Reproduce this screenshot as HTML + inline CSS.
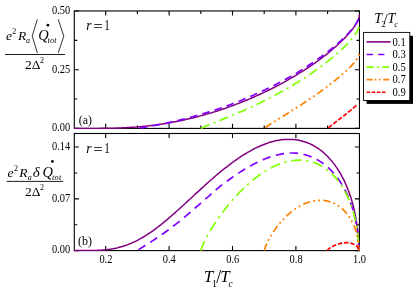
<!DOCTYPE html><html><head><meta charset="utf-8"><style>html,body{margin:0;padding:0;background:#fff}svg{display:block}</style></head><body><svg width="415" height="292" viewBox="0 0 415 292" style="will-change:transform"><rect width="415" height="292" fill="#fff"/><g style="filter:opacity(1)"><g fill="none" stroke="#000" stroke-width="1.1"><rect x="74.30" y="10.95" width="285.15" height="117.45"/><rect x="74.30" y="133.50" width="285.15" height="117.10"/><path d="M105.70 10.95V15.55M105.70 128.40V123.80M105.70 133.50V138.10M105.70 250.60V246.00M137.40 10.95V13.95M137.40 128.40V125.40M169.10 10.95V15.55M169.10 128.40V123.80M169.10 133.50V138.10M169.10 250.60V246.00M200.80 10.95V13.95M200.80 128.40V125.40M232.50 10.95V15.55M232.50 128.40V123.80M232.50 133.50V138.10M232.50 250.60V246.00M264.20 10.95V13.95M264.20 128.40V125.40M295.90 10.95V15.55M295.90 128.40V123.80M295.90 133.50V138.10M295.90 250.60V246.00M327.60 10.95V13.95M327.60 128.40V125.40M74.30 128.40H78.90M359.45 128.40H354.85M74.30 99.06H77.30M359.45 99.06H356.45M74.30 69.73H78.90M359.45 69.73H354.85M74.30 40.39H77.30M359.45 40.39H356.45M74.30 11.05H78.90M359.45 11.05H354.85M74.30 250.60H78.90M359.45 250.60H354.85M74.30 224.72H77.30M359.45 224.72H356.45M74.30 198.83H78.90M359.45 198.83H354.85M74.30 172.95H77.30M359.45 172.95H356.45M74.30 147.07H78.90M359.45 147.07H354.85"/></g><defs><clipPath id="c1"><rect x="73.30" y="10.95" width="287.15" height="118.05"/></clipPath><clipPath id="c2"><rect x="73.30" y="133.50" width="287.15" height="117.70"/></clipPath></defs><g fill="none" stroke-width="1.7" stroke-linejoin="round" clip-path="url(#c1)"><path d="M74.0 128.4 L78.5 128.4 L78.8 128.4 L83.0 128.4 L83.7 128.4 L87.4 128.4 L88.5 128.4 L91.8 128.4 L93.3 128.4 L96.1 128.4 L98.2 128.4 L100.4 128.3 L103.0 128.3 L104.7 128.3 L107.8 128.3 L108.9 128.2 L112.7 128.2 L113.1 128.2 L117.2 128.0 L117.5 128.0 L121.3 127.9 L122.4 127.8 L125.4 127.7 L127.2 127.6 L129.4 127.5 L132.0 127.3 L133.4 127.2 L136.9 127.0 L137.4 126.9 L141.3 126.6 L141.7 126.5 L145.2 126.2 L146.5 126.1 L149.0 125.8 L151.4 125.5 L152.8 125.3 L156.2 124.9 L156.6 124.8 L160.3 124.3 L161.0 124.2 L164.0 123.7 L165.9 123.4 L167.7 123.1 L170.7 122.6 L171.3 122.5 L174.9 121.8 L175.5 121.7 L178.4 121.1 L180.4 120.7 L181.9 120.4 L185.2 119.7 L185.4 119.6 L188.8 118.8 L190.1 118.5 L192.2 118.0 L194.9 117.4 L195.5 117.2 L198.9 116.3 L199.7 116.1 L202.1 115.4 L204.6 114.8 L205.4 114.5 L208.6 113.6 L209.4 113.4 L211.8 112.7 L214.2 111.9 L214.9 111.7 L218.0 110.7 L219.1 110.3 L221.0 109.7 L223.9 108.7 L224.1 108.7 L227.1 107.6 L228.7 107.0 L230.0 106.6 L232.9 105.5 L233.6 105.3 L235.8 104.4 L238.4 103.4 L238.6 103.4 L241.4 102.2 L243.2 101.5 L244.2 101.1 L247.0 100.0 L248.1 99.5 L249.7 98.9 L252.3 97.7 L252.9 97.5 L254.9 96.6 L257.5 95.4 L257.8 95.3 L260.1 94.3 L262.6 93.1 L262.6 93.1 L265.1 91.9 L267.4 90.8 L267.5 90.7 L270.0 89.5 L272.3 88.4 L272.3 88.3 L274.7 87.2 L277.0 86.0 L277.1 85.9 L279.3 84.8 L281.5 83.6 L281.9 83.3 L283.7 82.3 L285.9 81.1 L286.8 80.6 L288.0 79.9 L290.1 78.7 L291.6 77.9 L292.2 77.5 L294.2 76.3 L296.2 75.1 L296.4 75.0 L298.2 73.9 L300.1 72.7 L301.3 72.0 L302.0 71.5 L303.9 70.3 L305.7 69.2 L306.1 68.9 L307.5 68.0 L309.3 66.8 L310.9 65.7 L311.0 65.6 L312.7 64.5 L314.4 63.3 L315.8 62.3 L316.0 62.1 L317.6 61.0 L319.2 59.9 L320.6 58.8 L320.7 58.7 L322.2 57.6 L323.7 56.5 L325.1 55.4 L325.5 55.1 L326.5 54.3 L327.9 53.2 L329.2 52.1 L330.3 51.2 L330.5 51.0 L331.8 49.9 L333.0 48.9 L334.3 47.8 L335.1 47.1 L335.4 46.8 L336.6 45.8 L337.7 44.8 L338.8 43.8 L339.9 42.8 L340.0 42.7 L340.9 41.8 L341.9 40.8 L342.8 39.9 L343.8 39.0 L344.7 38.0 L344.8 37.9 L345.6 37.1 L346.4 36.2 L347.2 35.3 L348.0 34.5 L348.8 33.6 L349.5 32.8 L349.6 32.6 L350.2 31.9 L350.9 31.1 L351.5 30.3 L352.2 29.5 L352.8 28.7 L353.3 28.0 L353.8 27.2 L354.4 26.5 L354.5 26.4 L354.8 25.8 L355.3 25.1 L355.7 24.4 L356.1 23.8 L356.5 23.1 L356.8 22.5 L357.2 21.9 L357.5 21.3 L357.7 20.7 L358.0 20.1 L358.2 19.6 L358.4 19.0 L358.6 18.5 L358.8 18.0 L358.9 17.6 L359.0 17.1 L359.1 16.7 L359.2 16.2 L359.2 15.8 L359.3 15.5 L359.3 15.2 L359.3 14.8" stroke="#800080" stroke-dashoffset="0" stroke-width="1.5"/><path d="M137.4 128.4 L140.9 127.8 L141.2 127.8 L144.4 127.3 L144.9 127.2 L147.8 126.7 L148.7 126.6 L151.2 126.1 L152.4 125.9 L154.6 125.5 L156.2 125.2 L157.9 124.9 L160.0 124.5 L161.2 124.2 L163.7 123.7 L164.5 123.6 L167.5 122.9 L167.8 122.9 L171.0 122.1 L171.2 122.1 L174.2 121.4 L175.0 121.2 L177.4 120.7 L178.8 120.3 L180.5 119.9 L182.5 119.4 L183.6 119.1 L186.3 118.4 L186.7 118.3 L189.7 117.5 L190.1 117.4 L192.8 116.7 L193.8 116.4 L195.7 115.8 L197.6 115.3 L198.7 115.0 L201.3 114.2 L201.6 114.1 L204.5 113.3 L205.1 113.1 L207.4 112.4 L208.9 111.9 L210.2 111.5 L212.6 110.8 L213.1 110.6 L215.8 109.7 L216.4 109.6 L218.6 108.8 L220.1 108.3 L221.3 107.9 L223.9 107.0 L224.0 106.9 L226.7 105.9 L227.7 105.6 L229.3 105.0 L231.4 104.2 L231.9 104.0 L234.5 103.0 L235.2 102.7 L237.1 102.0 L238.9 101.2 L239.6 101.0 L242.1 100.0 L242.7 99.7 L244.5 98.9 L246.5 98.1 L247.0 97.9 L249.4 96.9 L250.2 96.5 L251.8 95.9 L254.0 94.9 L254.1 94.8 L256.4 93.8 L257.8 93.2 L258.7 92.7 L261.0 91.7 L261.5 91.4 L263.2 90.6 L265.3 89.7 L265.5 89.6 L267.6 88.5 L269.0 87.8 L269.8 87.5 L271.9 86.4 L272.8 86.0 L274.0 85.4 L276.1 84.3 L276.6 84.1 L278.1 83.2 L280.1 82.2 L280.3 82.1 L282.1 81.1 L284.1 80.1 L284.1 80.1 L286.0 79.0 L287.8 78.0 L287.9 78.0 L289.8 76.9 L291.6 75.9 L291.7 75.8 L293.5 74.8 L295.3 73.7 L295.4 73.7 L297.1 72.7 L298.8 71.6 L299.1 71.4 L300.5 70.6 L302.2 69.5 L302.9 69.1 L303.9 68.5 L305.5 67.4 L306.6 66.7 L307.1 66.4 L308.7 65.3 L310.2 64.3 L310.4 64.2 L311.8 63.3 L313.3 62.3 L314.2 61.7 L314.7 61.3 L316.2 60.3 L317.6 59.3 L317.9 59.0 L319.0 58.3 L320.4 57.3 L321.7 56.3 L321.7 56.3 L323.1 55.3 L324.3 54.4 L325.5 53.5 L325.6 53.4 L326.9 52.4 L328.1 51.5 L329.2 50.6 L329.3 50.6 L330.4 49.6 L331.6 48.7 L332.7 47.8 L333.0 47.6 L333.8 46.9 L334.9 46.0 L335.9 45.1 L336.7 44.4 L336.9 44.3 L337.9 43.4 L338.9 42.5 L339.8 41.7 L340.5 41.1 L340.7 40.9 L341.6 40.0 L342.5 39.2 L343.4 38.4 L344.2 37.6 L344.3 37.5 L345.0 36.8 L345.8 36.1 L346.5 35.3 L347.2 34.5 L347.9 33.8 L348.0 33.7 L348.6 33.1 L349.3 32.3 L349.9 31.6 L350.5 30.9 L351.1 30.3 L351.7 29.6 L351.8 29.5 L352.2 28.9 L352.8 28.3 L353.3 27.6 L353.7 27.0 L354.2 26.4 L354.6 25.8 L355.1 25.2 L355.5 24.6 L355.5 24.5 L355.8 24.1 L356.2 23.5 L356.5 23.0 L356.8 22.5 L357.1 22.0 L357.4 21.5 L357.6 21.0 L357.9 20.5 L358.1 20.1 L358.3 19.6 L358.5 19.2 L358.6 18.8 L358.8 18.4 L358.9 18.0 L359.0 17.6 L359.1 17.2 L359.2 16.9 L359.2 16.6 L359.3 16.2 L359.3 16.0 L359.3 15.7 L359.3 15.4" stroke="#8000ff" stroke-dasharray="7.6 5.2" stroke-dashoffset="-2.5"/><path d="M200.8 128.4 L203.3 127.2 L203.5 127.1 L205.8 126.1 L206.2 125.9 L208.2 125.1 L208.9 124.8 L210.7 124.1 L211.5 123.7 L213.1 123.1 L214.2 122.7 L215.5 122.2 L216.9 121.6 L217.8 121.2 L219.6 120.5 L220.2 120.3 L222.3 119.4 L222.5 119.4 L224.8 118.4 L225.0 118.4 L227.1 117.5 L227.7 117.3 L229.4 116.6 L230.4 116.1 L231.6 115.6 L233.0 115.0 L233.8 114.7 L235.7 113.9 L236.0 113.8 L238.2 112.8 L238.4 112.7 L240.3 111.9 L241.1 111.6 L242.5 111.0 L243.8 110.4 L244.6 110.0 L246.5 109.2 L246.7 109.1 L248.8 108.1 L249.2 108.0 L250.8 107.2 L251.8 106.7 L252.8 106.2 L254.5 105.5 L254.8 105.3 L256.8 104.4 L257.2 104.2 L258.8 103.4 L259.9 102.9 L260.7 102.5 L262.6 101.6 L262.7 101.5 L264.6 100.6 L265.3 100.2 L266.5 99.6 L268.0 98.9 L268.3 98.7 L270.2 97.7 L270.6 97.5 L272.0 96.8 L273.3 96.1 L273.8 95.8 L275.6 94.9 L276.0 94.6 L277.3 93.9 L278.7 93.2 L279.1 93.0 L280.8 92.1 L281.4 91.7 L282.5 91.1 L284.1 90.2 L284.2 90.2 L285.8 89.2 L286.8 88.7 L287.5 88.3 L289.1 87.3 L289.5 87.1 L290.7 86.4 L292.1 85.5 L292.3 85.5 L293.8 84.5 L294.8 83.9 L295.4 83.6 L296.9 82.7 L297.5 82.3 L298.4 81.8 L299.9 80.8 L300.2 80.6 L301.3 79.9 L302.8 79.0 L302.9 78.9 L304.2 78.1 L305.6 77.2 L305.6 77.2 L307.0 76.3 L308.3 75.4 L308.3 75.4 L309.7 74.5 L310.9 73.6 L311.0 73.6 L312.3 72.7 L313.6 71.8 L313.6 71.8 L314.8 70.9 L316.1 70.0 L316.3 69.9 L317.3 69.2 L318.5 68.3 L319.0 68.0 L319.7 67.4 L320.9 66.6 L321.7 66.0 L322.0 65.7 L323.1 64.9 L324.3 64.1 L324.4 64.0 L325.3 63.2 L326.4 62.4 L327.1 61.9 L327.5 61.6 L328.5 60.8 L329.5 59.9 L329.7 59.8 L330.5 59.1 L331.5 58.3 L332.4 57.6 L332.5 57.5 L333.4 56.8 L334.3 56.0 L335.1 55.3 L335.2 55.2 L336.1 54.4 L337.0 53.7 L337.8 53.0 L337.9 52.9 L338.7 52.2 L339.5 51.5 L340.3 50.7 L340.5 50.6 L341.1 50.0 L341.8 49.3 L342.6 48.6 L343.2 48.0 L343.3 47.9 L344.0 47.2 L344.7 46.5 L345.4 45.9 L345.9 45.4 L346.0 45.2 L346.7 44.5 L347.3 43.9 L347.9 43.2 L348.5 42.6 L348.6 42.6 L349.1 42.0 L349.6 41.4 L350.2 40.8 L350.7 40.2 L351.2 39.6 L351.2 39.5 L351.7 39.0 L352.1 38.4 L352.6 37.9 L353.0 37.3 L353.5 36.8 L353.9 36.3 L353.9 36.2 L354.3 35.7 L354.6 35.2 L355.0 34.7 L355.3 34.2 L355.7 33.7 L356.0 33.2 L356.3 32.8 L356.6 32.3 L356.6 32.2 L356.8 31.9 L357.1 31.4 L357.3 31.0 L357.5 30.6 L357.7 30.2 L357.9 29.8 L358.1 29.4 L358.3 29.0 L358.4 28.6 L358.6 28.3 L358.7 27.9 L358.8 27.6 L358.9 27.3 L359.0 27.0 L359.1 26.6 L359.1 26.4 L359.2 26.1 L359.2 25.8 L359.3 25.6 L359.3 25.3 L359.3 25.1 L359.3 24.8" stroke="#80ff00" stroke-dasharray="9.48 4.32 2.12 4.32" stroke-dashoffset="0"/><path d="M264.2 128.4 L265.7 127.3 L265.8 127.2 L267.2 126.2 L267.4 126.1 L268.7 125.3 L269.0 125.0 L270.1 124.3 L270.6 124.0 L271.6 123.4 L272.3 123.0 L273.0 122.5 L273.9 122.0 L274.4 121.6 L275.5 120.9 L275.8 120.7 L277.1 119.9 L277.2 119.9 L278.6 119.0 L278.7 118.9 L280.0 118.2 L280.3 117.9 L281.3 117.3 L281.9 116.9 L282.7 116.5 L283.5 115.9 L284.0 115.7 L285.2 114.9 L285.3 114.8 L286.6 114.0 L286.8 113.9 L287.9 113.2 L288.4 112.9 L289.2 112.4 L290.0 111.9 L290.5 111.6 L291.6 110.9 L291.7 110.8 L293.0 110.0 L293.2 109.9 L294.2 109.3 L294.8 108.9 L295.4 108.5 L296.4 107.8 L296.6 107.7 L297.8 106.9 L298.0 106.8 L299.0 106.2 L299.7 105.8 L300.2 105.4 L301.3 104.7 L301.3 104.7 L302.5 103.9 L302.9 103.6 L303.6 103.2 L304.5 102.6 L304.7 102.4 L305.8 101.7 L306.1 101.5 L306.9 101.0 L307.7 100.4 L308.0 100.2 L309.1 99.5 L309.3 99.3 L310.1 98.8 L310.9 98.2 L311.2 98.1 L312.2 97.4 L312.6 97.1 L313.2 96.7 L314.2 96.0 L314.2 96.0 L315.2 95.3 L315.8 94.9 L316.2 94.6 L317.2 93.9 L317.4 93.8 L318.1 93.2 L319.0 92.6 L319.1 92.6 L320.0 91.9 L320.6 91.5 L320.9 91.2 L321.9 90.6 L322.2 90.3 L322.8 89.9 L323.6 89.2 L323.8 89.1 L324.5 88.6 L325.4 88.0 L325.5 87.9 L326.2 87.3 L327.1 86.7 L327.1 86.7 L327.9 86.1 L328.7 85.5 L328.7 85.4 L329.5 84.8 L330.3 84.2 L330.3 84.2 L331.1 83.6 L331.9 83.0 L331.9 83.0 L332.6 82.4 L333.4 81.8 L333.5 81.7 L334.1 81.2 L334.8 80.6 L335.1 80.4 L335.5 80.1 L336.2 79.5 L336.7 79.1 L336.9 78.9 L337.6 78.4 L338.3 77.8 L338.3 77.7 L338.9 77.3 L339.6 76.7 L340.0 76.4 L340.2 76.2 L340.8 75.6 L341.4 75.1 L341.6 75.0 L342.0 74.6 L342.6 74.1 L343.2 73.6 L343.2 73.6 L343.8 73.1 L344.3 72.6 L344.8 72.1 L344.9 72.1 L345.4 71.6 L345.9 71.1 L346.4 70.6 L346.4 70.6 L346.9 70.1 L347.4 69.7 L347.9 69.2 L348.0 69.1 L348.4 68.8 L348.8 68.3 L349.3 67.9 L349.6 67.5 L349.7 67.4 L350.1 67.0 L350.5 66.6 L351.0 66.2 L351.2 65.9 L351.3 65.8 L351.7 65.4 L352.1 65.0 L352.5 64.6 L352.8 64.2 L352.9 64.1 L353.2 63.8 L353.5 63.4 L353.8 63.1 L354.1 62.7 L354.4 62.3 L354.5 62.3 L354.7 62.0 L355.0 61.6 L355.3 61.3 L355.5 61.0 L355.8 60.7 L356.0 60.3 L356.1 60.3 L356.3 60.0 L356.5 59.7 L356.7 59.4 L356.9 59.1 L357.1 58.8 L357.3 58.6 L357.5 58.3 L357.7 58.0 L357.7 58.0 L357.8 57.8 L358.0 57.5 L358.1 57.3 L358.2 57.0 L358.4 56.8 L358.5 56.6 L358.6 56.3 L358.7 56.1 L358.8 55.9 L358.9 55.7 L358.9 55.5 L359.0 55.3 L359.1 55.2 L359.1 55.0 L359.2 54.8 L359.2 54.6 L359.2 54.5 L359.3 54.4 L359.3 54.2 L359.3 54.1 L359.3 54.0 L359.3 53.8" stroke="#ff8000" stroke-dasharray="7.4 3.1 1.9 3.1 1.9 3.3" stroke-dashoffset="19.32"/><path d="M327.6 128.4 L328.1 128.0 L328.1 128.0 L328.6 127.6 L328.7 127.5 L329.1 127.2 L329.2 127.1 L329.6 126.8 L329.7 126.7 L330.1 126.5 L330.3 126.3 L330.5 126.1 L330.8 125.9 L331.0 125.7 L331.4 125.4 L331.5 125.4 L331.9 125.0 L331.9 125.0 L332.4 124.6 L332.4 124.6 L332.9 124.3 L333.0 124.2 L333.3 123.9 L333.5 123.8 L333.8 123.6 L334.0 123.4 L334.2 123.3 L334.6 123.0 L334.6 122.9 L335.1 122.6 L335.1 122.5 L335.5 122.3 L335.7 122.1 L335.9 121.9 L336.2 121.7 L336.4 121.6 L336.7 121.3 L336.8 121.3 L337.2 121.0 L337.3 120.9 L337.6 120.6 L337.8 120.5 L338.0 120.3 L338.3 120.1 L338.4 120.0 L338.8 119.7 L338.9 119.6 L339.2 119.4 L339.4 119.2 L339.6 119.1 L340.0 118.8 L340.0 118.8 L340.4 118.5 L340.5 118.4 L340.7 118.2 L341.0 118.0 L341.1 117.9 L341.5 117.6 L341.6 117.6 L341.8 117.4 L342.1 117.1 L342.2 117.1 L342.6 116.8 L342.6 116.7 L342.9 116.5 L343.2 116.3 L343.3 116.2 L343.6 116.0 L343.7 115.9 L343.9 115.7 L344.3 115.5 L344.3 115.4 L344.6 115.2 L344.8 115.0 L344.9 114.9 L345.3 114.7 L345.3 114.6 L345.6 114.4 L345.9 114.2 L345.9 114.2 L346.2 113.9 L346.4 113.7 L346.5 113.7 L346.8 113.4 L346.9 113.3 L347.1 113.2 L347.4 112.9 L347.5 112.9 L347.7 112.7 L348.0 112.5 L348.0 112.5 L348.3 112.2 L348.6 112.0 L348.6 112.0 L348.8 111.8 L349.1 111.6 L349.1 111.6 L349.4 111.3 L349.6 111.1 L349.6 111.1 L349.9 110.9 L350.2 110.7 L350.2 110.7 L350.4 110.5 L350.7 110.3 L350.7 110.3 L350.9 110.1 L351.1 109.9 L351.2 109.8 L351.4 109.7 L351.6 109.5 L351.8 109.4 L351.8 109.3 L352.1 109.1 L352.3 108.9 L352.3 108.9 L352.5 108.7 L352.7 108.6 L352.9 108.4 L352.9 108.4 L353.1 108.2 L353.3 108.0 L353.4 108.0 L353.5 107.8 L353.7 107.7 L353.9 107.5 L353.9 107.5 L354.1 107.3 L354.3 107.2 L354.5 107.0 L354.5 107.0 L354.7 106.9 L354.8 106.7 L355.0 106.6 L355.0 106.6 L355.2 106.4 L355.3 106.3 L355.5 106.1 L355.5 106.1 L355.7 106.0 L355.8 105.8 L356.0 105.7 L356.1 105.6 L356.1 105.6 L356.2 105.4 L356.4 105.3 L356.5 105.2 L356.6 105.1 L356.6 105.1 L356.8 104.9 L356.8 104.9" stroke="#ff0000" stroke-dasharray="4.5 1.9" stroke-dashoffset="5.42"/></g><g fill="none" stroke-width="1.7" stroke-linejoin="round" clip-path="url(#c2)"><path d="M74.0 250.6 L78.5 250.6 L78.8 250.6 L83.0 250.6 L83.7 250.6 L87.4 250.6 L88.5 250.6 L91.8 250.5 L93.3 250.5 L96.1 250.4 L98.2 250.3 L100.4 250.2 L103.0 250.0 L104.7 249.9 L107.8 249.5 L108.9 249.4 L112.7 248.8 L113.1 248.7 L117.2 247.9 L117.5 247.8 L121.3 246.8 L122.4 246.5 L125.4 245.5 L127.2 244.9 L129.4 244.0 L132.0 242.9 L133.4 242.3 L136.9 240.6 L137.4 240.4 L141.3 238.2 L141.7 238.0 L145.2 235.9 L146.5 235.1 L149.0 233.4 L151.4 231.8 L152.8 230.8 L156.2 228.3 L156.6 228.0 L160.3 225.1 L161.0 224.6 L164.0 222.2 L165.9 220.6 L167.7 219.1 L170.7 216.5 L171.3 216.0 L174.9 212.9 L175.5 212.2 L178.4 209.7 L180.4 207.9 L181.9 206.5 L185.2 203.5 L185.4 203.3 L188.8 200.1 L190.1 199.0 L192.2 197.0 L194.9 194.5 L195.5 193.9 L198.9 190.9 L199.7 190.1 L202.1 187.9 L204.6 185.7 L205.4 184.9 L208.6 182.0 L209.4 181.3 L211.8 179.2 L214.2 177.1 L214.9 176.5 L218.0 173.9 L219.1 173.0 L221.0 171.4 L223.9 169.0 L224.1 168.9 L227.1 166.6 L228.7 165.3 L230.0 164.3 L232.9 162.1 L233.6 161.7 L235.8 160.1 L238.4 158.3 L238.6 158.1 L241.4 156.2 L243.2 155.1 L244.2 154.5 L247.0 152.8 L248.1 152.2 L249.7 151.3 L252.3 149.8 L252.9 149.5 L254.9 148.4 L257.5 147.2 L257.8 147.1 L260.1 146.0 L262.6 145.0 L262.6 145.0 L265.1 144.0 L267.4 143.2 L267.5 143.1 L269.9 142.3 L272.2 141.7 L272.3 141.7 L274.6 141.1 L276.9 140.6 L277.0 140.6 L279.2 140.2 L281.4 139.8 L281.8 139.8 L283.6 139.6 L285.7 139.4 L286.6 139.4 L287.9 139.4 L289.9 139.4 L291.4 139.4 L292.0 139.4 L294.0 139.6 L296.0 139.8 L296.2 139.9 L298.0 140.1 L299.9 140.5 L301.0 140.8 L301.8 141.0 L303.6 141.5 L305.4 142.1 L305.8 142.2 L307.2 142.7 L309.0 143.4 L310.6 144.2 L310.7 144.2 L312.4 145.0 L314.0 145.9 L315.4 146.8 L315.6 146.9 L317.2 147.9 L318.8 148.9 L320.2 150.0 L320.3 150.0 L321.8 151.2 L323.3 152.4 L324.7 153.7 L325.0 154.0 L326.1 155.0 L327.4 156.3 L328.8 157.7 L329.8 158.8 L330.1 159.1 L331.3 160.6 L332.6 162.1 L333.8 163.6 L334.6 164.8 L335.0 165.2 L336.1 166.8 L337.2 168.4 L338.3 170.1 L339.4 171.8 L339.5 172.0 L340.4 173.5 L341.4 175.3 L342.3 177.1 L343.3 178.9 L344.2 180.7 L344.3 180.9 L345.0 182.6 L345.9 184.5 L346.7 186.4 L347.5 188.3 L348.2 190.2 L349.0 192.1 L349.1 192.4 L349.6 194.1 L350.3 196.1 L351.0 198.1 L351.6 200.1 L352.2 202.1 L352.7 204.1 L353.3 206.1 L353.8 208.1 L353.9 208.6 L354.2 210.2 L354.7 212.2 L355.1 214.2 L355.5 216.3 L355.9 218.3 L356.2 220.3 L356.6 222.4 L356.8 224.4 L357.1 226.4 L357.4 228.4 L357.6 230.4 L357.8 232.4 L358.0 234.4 L358.1 236.3 L358.3 238.2 L358.4 240.2 L358.5 242.0 L358.6 243.8 L358.6 245.6 L358.6 247.3 L358.7 248.7 L358.7 250.6" stroke="#800080" stroke-dashoffset="0" stroke-width="1.5"/><path d="M137.4 250.6 L140.9 248.1 L141.2 248.0 L144.4 246.0 L144.9 245.6 L147.8 243.8 L148.7 243.3 L151.2 241.7 L152.4 240.9 L154.6 239.5 L156.2 238.4 L157.9 237.3 L160.0 235.9 L161.2 235.0 L163.7 233.3 L164.5 232.7 L167.5 230.5 L167.8 230.3 L171.0 227.9 L171.2 227.7 L174.2 225.4 L175.0 224.8 L177.4 222.9 L178.8 221.8 L180.5 220.4 L182.5 218.8 L183.6 217.9 L186.3 215.7 L186.7 215.3 L189.7 212.7 L190.1 212.5 L192.8 210.1 L193.8 209.2 L195.7 207.5 L197.6 205.9 L198.7 205.0 L201.3 202.7 L201.6 202.4 L204.5 199.8 L205.1 199.4 L207.4 197.3 L208.9 196.1 L210.2 194.8 L212.6 192.8 L213.1 192.4 L215.8 190.0 L216.4 189.5 L218.6 187.6 L220.1 186.3 L221.3 185.4 L223.9 183.5 L224.0 183.4 L226.7 181.4 L227.7 180.7 L229.3 179.5 L231.4 178.0 L231.9 177.6 L234.5 175.8 L235.2 175.4 L237.1 174.1 L238.9 172.9 L239.6 172.4 L242.1 170.8 L242.7 170.5 L244.5 169.3 L246.5 168.2 L247.0 167.9 L249.4 166.5 L250.2 166.0 L251.8 165.2 L254.0 164.0 L254.1 163.9 L256.4 162.8 L257.8 162.1 L258.7 161.6 L261.0 160.6 L261.5 160.4 L263.2 159.6 L265.3 158.8 L265.4 158.7 L267.6 157.9 L269.0 157.4 L269.8 157.1 L271.9 156.4 L272.7 156.2 L274.0 155.8 L276.0 155.3 L276.5 155.1 L278.0 154.8 L280.0 154.3 L280.2 154.3 L282.0 153.9 L283.9 153.6 L284.0 153.6 L285.9 153.4 L287.7 153.2 L287.8 153.2 L289.6 153.0 L291.4 153.0 L291.5 153.0 L293.3 153.0 L295.1 153.1 L295.2 153.1 L296.8 153.2 L298.6 153.5 L298.9 153.5 L300.3 153.7 L301.9 154.0 L302.6 154.2 L303.6 154.4 L305.2 154.8 L306.4 155.1 L306.8 155.3 L308.4 155.8 L309.9 156.3 L310.1 156.4 L311.5 156.9 L312.9 157.6 L313.8 158.0 L314.4 158.2 L315.8 159.0 L317.3 159.7 L317.6 159.9 L318.7 160.5 L320.0 161.4 L321.3 162.2 L321.4 162.2 L322.7 163.2 L323.9 164.1 L325.0 164.9 L325.2 165.1 L326.4 166.1 L327.7 167.1 L328.8 168.2 L328.8 168.2 L330.0 169.3 L331.1 170.4 L332.2 171.6 L332.5 171.9 L333.3 172.8 L334.4 174.0 L335.4 175.3 L336.3 176.3 L336.4 176.5 L337.4 177.8 L338.4 179.1 L339.3 180.5 L340.0 181.5 L340.2 181.8 L341.1 183.2 L342.0 184.6 L342.8 186.0 L343.6 187.5 L343.7 187.6 L344.4 188.9 L345.2 190.4 L346.0 191.9 L346.7 193.4 L347.4 194.9 L347.5 195.0 L348.1 196.4 L348.7 197.9 L349.3 199.5 L350.0 201.0 L350.5 202.6 L351.1 204.2 L351.2 204.4 L351.7 205.8 L352.2 207.3 L352.7 208.9 L353.2 210.6 L353.6 212.2 L354.0 213.8 L354.5 215.4 L354.8 217.0 L354.9 217.4 L355.2 218.6 L355.6 220.2 L355.9 221.9 L356.2 223.5 L356.5 225.1 L356.8 226.7 L357.0 228.3 L357.3 229.9 L357.5 231.5 L357.7 233.1 L357.8 234.7 L358.0 236.2 L358.1 237.8 L358.3 239.3 L358.4 240.9 L358.4 242.3 L358.5 243.8 L358.6 245.2 L358.6 246.6 L358.6 247.9 L358.7 249.0 L358.7 250.6" stroke="#8000ff" stroke-dasharray="8.3 5.7" stroke-dashoffset="-1.3"/><path d="M200.8 250.6 L203.3 243.9 L203.5 243.5 L205.8 238.8 L206.2 238.0 L208.2 234.2 L208.9 233.1 L210.7 230.0 L211.5 228.5 L213.1 226.1 L214.2 224.3 L215.5 222.4 L216.9 220.2 L217.8 218.9 L219.6 216.4 L220.2 215.6 L222.3 212.7 L222.5 212.4 L224.8 209.4 L225.0 209.1 L227.1 206.5 L227.7 205.8 L229.4 203.7 L230.4 202.5 L231.6 201.0 L233.0 199.4 L233.8 198.5 L235.7 196.4 L236.0 196.1 L238.2 193.8 L238.4 193.5 L240.3 191.5 L241.1 190.8 L242.5 189.4 L243.8 188.1 L244.6 187.4 L246.5 185.6 L246.7 185.4 L248.8 183.5 L249.2 183.2 L250.8 181.8 L251.8 180.9 L252.8 180.1 L254.5 178.7 L254.8 178.5 L256.8 176.9 L257.2 176.7 L258.8 175.5 L259.9 174.7 L260.7 174.1 L262.6 172.9 L262.7 172.8 L264.6 171.6 L265.3 171.1 L266.4 170.4 L267.9 169.5 L268.3 169.3 L270.1 168.3 L270.6 168.1 L271.9 167.4 L273.3 166.7 L273.7 166.5 L275.5 165.7 L275.9 165.5 L277.2 164.9 L278.6 164.3 L279.0 164.2 L280.7 163.6 L281.3 163.3 L282.4 163.0 L283.9 162.5 L284.0 162.5 L285.7 162.0 L286.6 161.8 L287.3 161.6 L288.9 161.2 L289.3 161.1 L290.5 160.9 L292.0 160.7 L292.1 160.7 L293.6 160.5 L294.6 160.4 L295.2 160.3 L296.7 160.2 L297.3 160.2 L298.2 160.2 L299.6 160.1 L300.0 160.1 L301.1 160.2 L302.5 160.3 L302.6 160.3 L303.9 160.4 L305.3 160.5 L305.3 160.5 L306.7 160.8 L308.0 161.0 L308.0 161.0 L309.4 161.3 L310.6 161.6 L310.7 161.6 L312.0 162.0 L313.2 162.4 L313.3 162.4 L314.5 162.8 L315.7 163.3 L316.0 163.4 L317.0 163.8 L318.2 164.3 L318.6 164.6 L319.3 164.9 L320.5 165.5 L321.3 166.0 L321.6 166.1 L322.8 166.8 L323.9 167.5 L324.0 167.6 L324.9 168.2 L326.0 169.0 L326.6 169.5 L327.1 169.8 L328.1 170.6 L329.1 171.4 L329.3 171.6 L330.1 172.3 L331.1 173.1 L332.0 174.0 L332.0 174.1 L332.9 175.0 L333.9 175.9 L334.6 176.8 L334.8 176.9 L335.6 177.9 L336.5 178.9 L337.3 179.9 L337.4 180.0 L338.2 181.0 L339.0 182.1 L339.8 183.2 L340.0 183.4 L340.6 184.3 L341.3 185.4 L342.1 186.5 L342.7 187.5 L342.8 187.7 L343.5 188.9 L344.2 190.0 L344.8 191.2 L345.3 192.1 L345.5 192.5 L346.1 193.7 L346.8 194.9 L347.4 196.2 L347.9 197.4 L348.0 197.5 L348.5 198.7 L349.1 200.0 L349.6 201.3 L350.1 202.6 L350.6 203.9 L350.7 204.0 L351.1 205.2 L351.6 206.5 L352.0 207.8 L352.4 209.1 L352.9 210.5 L353.3 211.8 L353.3 212.0 L353.7 213.2 L354.0 214.5 L354.4 215.9 L354.7 217.2 L355.1 218.6 L355.4 219.9 L355.7 221.3 L355.9 222.6 L356.0 222.9 L356.2 224.0 L356.5 225.4 L356.7 226.7 L356.9 228.1 L357.1 229.4 L357.3 230.8 L357.5 232.1 L357.7 233.4 L357.8 234.8 L357.9 236.1 L358.1 237.4 L358.2 238.7 L358.3 240.0 L358.4 241.2 L358.4 242.5 L358.5 243.7 L358.6 244.9 L358.6 246.1 L358.6 247.3 L358.7 248.3 L358.7 249.1 L358.7 250.6" stroke="#80ff00" stroke-dasharray="10.3 4.7 2.3 4.7" stroke-dashoffset="0"/><path d="M264.2 250.6 L265.7 246.2 L265.8 245.9 L267.2 242.9 L267.4 242.4 L268.6 239.9 L269.0 239.2 L270.1 237.3 L270.6 236.3 L271.5 234.8 L272.2 233.7 L272.9 232.5 L273.8 231.2 L274.4 230.4 L275.4 228.9 L275.7 228.4 L277.0 226.7 L277.1 226.6 L278.5 224.8 L278.6 224.7 L279.9 223.1 L280.2 222.7 L281.2 221.6 L281.8 220.9 L282.6 220.1 L283.4 219.2 L283.9 218.7 L285.0 217.5 L285.2 217.3 L286.5 216.1 L286.6 216.0 L287.8 214.9 L288.2 214.5 L289.0 213.8 L289.8 213.1 L290.3 212.7 L291.4 211.8 L291.5 211.7 L292.8 210.7 L293.0 210.5 L294.0 209.8 L294.6 209.4 L295.2 209.0 L296.2 208.3 L296.4 208.2 L297.6 207.4 L297.8 207.3 L298.8 206.7 L299.4 206.3 L299.9 206.0 L301.0 205.4 L301.1 205.4 L302.2 204.8 L302.6 204.6 L303.3 204.3 L304.2 203.9 L304.4 203.8 L305.5 203.3 L305.8 203.2 L306.6 202.9 L307.4 202.6 L307.7 202.5 L308.8 202.2 L309.0 202.1 L309.8 201.8 L310.6 201.6 L310.9 201.5 L311.9 201.3 L312.2 201.2 L312.9 201.1 L313.8 200.9 L313.9 200.9 L314.9 200.7 L315.4 200.6 L315.9 200.6 L316.8 200.5 L317.0 200.4 L317.8 200.4 L318.6 200.3 L318.7 200.3 L319.6 200.3 L320.2 200.3 L320.6 200.3 L321.5 200.3 L321.8 200.3 L322.4 200.3 L323.2 200.4 L323.4 200.4 L324.1 200.5 L325.0 200.6 L325.0 200.6 L325.8 200.7 L326.6 200.9 L326.7 200.9 L327.5 201.1 L328.2 201.3 L328.3 201.3 L329.1 201.5 L329.8 201.7 L329.9 201.7 L330.6 202.0 L331.4 202.2 L331.4 202.3 L332.2 202.5 L332.9 202.8 L333.0 202.9 L333.6 203.2 L334.4 203.5 L334.6 203.6 L335.1 203.9 L335.8 204.2 L336.3 204.5 L336.4 204.6 L337.1 205.0 L337.8 205.4 L337.9 205.5 L338.4 205.9 L339.1 206.3 L339.5 206.6 L339.7 206.8 L340.3 207.2 L340.9 207.7 L341.1 207.8 L341.5 208.2 L342.1 208.7 L342.7 209.2 L342.7 209.2 L343.2 209.7 L343.8 210.3 L344.3 210.8 L344.3 210.8 L344.9 211.4 L345.4 212.0 L345.9 212.5 L345.9 212.5 L346.4 213.1 L346.9 213.7 L347.3 214.3 L347.5 214.5 L347.8 214.9 L348.3 215.5 L348.7 216.2 L349.1 216.7 L349.1 216.8 L349.6 217.5 L350.0 218.1 L350.4 218.8 L350.7 219.2 L350.8 219.4 L351.1 220.1 L351.5 220.8 L351.9 221.4 L352.2 222.1 L352.3 222.2 L352.6 222.8 L352.9 223.5 L353.2 224.2 L353.5 224.9 L353.8 225.6 L353.9 225.7 L354.1 226.3 L354.4 227.0 L354.7 227.7 L354.9 228.4 L355.2 229.2 L355.4 229.9 L355.5 230.0 L355.7 230.6 L355.9 231.3 L356.1 232.1 L356.3 232.8 L356.5 233.5 L356.7 234.2 L356.9 235.0 L357.0 235.7 L357.1 235.8 L357.2 236.4 L357.3 237.1 L357.5 237.9 L357.6 238.6 L357.7 239.3 L357.9 240.0 L358.0 240.7 L358.1 241.4 L358.2 242.1 L358.2 242.8 L358.3 243.5 L358.4 244.2 L358.4 244.9 L358.5 245.6 L358.5 246.3 L358.6 246.9 L358.6 247.5 L358.6 248.2 L358.6 248.8 L358.7 249.3 L358.7 249.7 L358.7 250.6" stroke="#ff8000" stroke-dasharray="7.4 3.1 1.9 3.1 1.9 3.3" stroke-dashoffset="0"/><path d="M327.2 250.6 L327.7 250.0 L327.7 250.0 L328.2 249.5 L328.2 249.5 L328.7 249.1 L328.8 249.0 L329.1 248.7 L329.3 248.6 L329.6 248.3 L329.8 248.2 L330.1 248.0 L330.4 247.8 L330.6 247.7 L330.9 247.4 L331.0 247.4 L331.4 247.1 L331.5 247.1 L331.9 246.8 L332.0 246.8 L332.4 246.5 L332.5 246.5 L332.8 246.3 L333.0 246.2 L333.3 246.1 L333.6 245.9 L333.7 245.8 L334.1 245.6 L334.2 245.6 L334.6 245.4 L334.6 245.4 L335.0 245.2 L335.2 245.2 L335.5 245.0 L335.7 244.9 L335.9 244.9 L336.3 244.7 L336.3 244.7 L336.7 244.5 L336.8 244.5 L337.1 244.4 L337.3 244.3 L337.5 244.3 L337.9 244.1 L337.9 244.1 L338.3 244.0 L338.4 244.0 L338.7 243.9 L338.9 243.8 L339.1 243.8 L339.5 243.7 L339.5 243.7 L339.8 243.6 L340.0 243.5 L340.2 243.5 L340.5 243.4 L340.6 243.4 L341.0 243.3 L341.1 243.3 L341.3 243.2 L341.6 243.2 L341.7 243.2 L342.0 243.1 L342.1 243.1 L342.4 243.0 L342.7 243.0 L342.7 243.0 L343.1 242.9 L343.2 242.9 L343.4 242.9 L343.7 242.9 L343.7 242.9 L344.1 242.8 L344.3 242.8 L344.4 242.8 L344.7 242.8 L344.8 242.8 L345.0 242.8 L345.3 242.7 L345.3 242.7 L345.7 242.7 L345.9 242.7 L346.0 242.7 L346.3 242.7 L346.4 242.7 L346.6 242.7 L346.9 242.7 L346.9 242.7 L347.1 242.7 L347.4 242.7 L347.5 242.7 L347.7 242.8 L348.0 242.8 L348.0 242.8 L348.3 242.8 L348.5 242.8 L348.5 242.8 L348.8 242.9 L349.1 242.9 L349.1 242.9 L349.3 242.9 L349.6 243.0 L349.6 243.0 L349.8 243.0 L350.1 243.1 L350.1 243.1 L350.3 243.1 L350.6 243.2 L350.7 243.2 L350.8 243.2 L351.0 243.3 L351.2 243.3 L351.3 243.3 L351.5 243.4 L351.7 243.4 L351.7 243.4 L351.9 243.5 L352.1 243.6 L352.3 243.6 L352.3 243.6 L352.5 243.7 L352.8 243.8 L352.8 243.8 L352.9 243.9 L353.1 243.9 L353.3 244.0 L353.3 244.0 L353.5 244.1 L353.7 244.2 L353.9 244.3 L353.9 244.3 L354.1 244.4 L354.2 244.4 L354.4 244.5 L354.4 244.5 L354.6 244.6 L354.7 244.7 L354.9 244.8 L354.9 244.8 L355.0 244.9 L355.2 245.0 L355.3 245.1 L355.5 245.2 L355.5 245.2 L355.6 245.3 L355.8 245.4 L355.9 245.5 L356.0 245.6 L356.0 245.6 L356.2 245.7 L356.3 245.8 L356.4 245.9 L356.5 246.0 L356.5 246.1 L356.6 246.2 L356.7 246.3 L356.9 246.4 L357.0 246.5 L357.1 246.6 L357.1 246.6 L357.2 246.7 L357.2 246.8 L357.3 246.9 L357.4 247.0 L357.5 247.2 L357.6 247.3 L357.6 247.3 L357.7 247.4 L357.7 247.5 L357.8 247.6 L357.9 247.7 L357.9 247.9 L358.0 248.0 L358.1 248.1 L358.1 248.2 L358.1 248.2 L358.2 248.3 L358.2 248.4 L358.3 248.5 L358.3 248.7 L358.4 248.8 L358.4 248.9 L358.4 249.0 L358.5 249.1 L358.5 249.2 L358.5 249.3 L358.5 249.5 L358.6 249.6 L358.6 249.7 L358.6 249.8 L358.6 249.9 L358.6 250.0 L358.6 250.1 L358.7 250.2 L358.7 250.3 L358.7 250.3 L358.7 250.4 L358.7 250.6" stroke="#ff0000" stroke-dasharray="4.5 1.9" stroke-dashoffset="0"/></g><g font-family="'Liberation Serif',serif" font-size="12.8" fill="#000"><text transform="translate(70.2 14.0) scale(0.815 1)" text-anchor="end">0.50</text><text transform="translate(70.2 72.7) scale(0.815 1)" text-anchor="end">0.25</text><text transform="translate(70.2 131.3) scale(0.815 1)" text-anchor="end">0.00</text><text transform="translate(70.2 150.0) scale(0.815 1)" text-anchor="end">0.14</text><text transform="translate(70.2 201.8) scale(0.815 1)" text-anchor="end">0.07</text><text transform="translate(70.2 253.3) scale(0.815 1)" text-anchor="end">0.00</text><text transform="translate(105.9 263.3) scale(0.815 1)" text-anchor="middle">0.2</text><text transform="translate(169.3 263.3) scale(0.815 1)" text-anchor="middle">0.4</text><text transform="translate(232.7 263.3) scale(0.815 1)" text-anchor="middle">0.6</text><text transform="translate(296.1 263.3) scale(0.815 1)" text-anchor="middle">0.8</text><text transform="translate(359.5 263.3) scale(0.815 1)" text-anchor="middle">1.0</text></g><g font-family="'Liberation Serif',serif" font-size="13" fill="#000"><text font-size="13.4" transform="translate(78.7 123.6) scale(0.885 1)">(a)</text><text font-size="13.4" transform="translate(78.0 245.3) scale(0.9 1)">(b)</text><g font-size="14.3"><text transform="translate(86.2 29.6) scale(0.95 1)" font-style="italic">r</text><text transform="translate(93.4 30.5) scale(1.12 1)" stroke="#000" stroke-width="0.25">=</text><text transform="translate(104.3 29.6) scale(0.78 1)">1</text></g><g font-size="14.3"><text transform="translate(86.2 152.6) scale(0.95 1)" font-style="italic">r</text><text transform="translate(93.4 153.5) scale(1.12 1)" stroke="#000" stroke-width="0.25">=</text><text transform="translate(104.3 152.6) scale(0.78 1)">1</text></g></g><rect x="366.6" y="35.8" width="46.4" height="68.1" fill="#000"/><rect x="363.5" y="32.4" width="46.3" height="68.1" fill="#fff" stroke="#000" stroke-width="0.9"/><g fill="none" stroke-width="1.6"><path d="M366.6 41.9H390.6" stroke="#800080"/><path d="M366.6 54.5H384.4" stroke="#8000ff" stroke-dasharray="6.4 5.1"/><path d="M366.6 67.1H389.0" stroke="#80ff00" stroke-dasharray="7.2 3.3 1.8 3.3"/><path d="M366.6 79.6H390.0" stroke="#ff8000" stroke-dasharray="6 2.1 1.6 2.5 1.6 2.8"/><path d="M366.6 92.2H385.8" stroke="#ff0000" stroke-dasharray="3.6 1.5"/></g><g font-family="'Liberation Serif',serif" font-size="12.7" fill="#000"><text transform="translate(392.5 45.5) scale(0.835 1)">0.1</text><text transform="translate(392.5 58.1) scale(0.835 1)">0.3</text><text transform="translate(392.5 70.7) scale(0.835 1)">0.5</text><text transform="translate(392.5 83.2) scale(0.835 1)">0.7</text><text transform="translate(392.5 95.8) scale(0.835 1)">0.9</text></g><g font-family="'Liberation Serif',serif" fill="#000" font-style="italic"><text transform="translate(374.3 22.9) scale(0.93 1)" font-size="15">T</text><text x="381.4" y="26.7" font-size="8.3" font-style="normal">2</text><text transform="translate(383.6 24.2) scale(0.95 1)" font-size="15.6" font-style="normal">/</text><text transform="translate(387.6 22.9) scale(0.93 1)" font-size="15">T</text><text x="394.3" y="26.5" font-size="8.3">c</text><text x="203.8" y="281.8" font-size="17">T</text><text x="212.0" y="286.8" font-size="10" font-style="normal">1</text><text x="216.2" y="283.0" font-size="17.8" font-style="normal">/</text><text x="220.2" y="281.8" font-size="17">T</text><text x="228.6" y="286.9" font-size="9.3">c</text></g><g font-family="'Liberation Serif',serif" fill="#000"><g font-style="italic"><text x="5.9" y="39.8" font-size="13.5">e</text><text x="18" y="39.8" font-size="13.5">R</text><text x="26.1" y="43.2" font-size="8">a</text><text x="38.2" y="40.0" font-size="14.4">Q</text><text x="47.6" y="43.2" font-size="8.2" letter-spacing="0.1">tot</text></g><text x="12.3" y="34.0" font-size="8">2</text><circle cx="47.9" cy="25.2" r="1.35"/><path d="M37.4 19.3L32.2 36.1L37.4 53M58.2 19.3L63.8 36.1L58.2 53" fill="none" stroke="#000" stroke-width="0.8"/><path d="M5 54.5H65" stroke="#000" stroke-width="0.9"/><text x="25" y="69.1" font-size="13.5">2Δ</text><text x="40.0" y="62.8" font-size="8">2</text><g font-style="italic"><text x="7.4" y="176.5" font-size="13.5">e</text><text x="19.2" y="176.5" font-size="13.5">R</text><text x="27.8" y="179.8" font-size="8">a</text><text x="32.8" y="176.5" font-size="15">δ</text><text x="42.6" y="176.7" font-size="14.4">Q</text><text x="51.9" y="179.8" font-size="8.4" letter-spacing="0.35">tot</text></g><text x="14.1" y="171.4" font-size="8">2</text><circle cx="52.4" cy="161.4" r="1.35"/><path d="M6.7 181.4H63.1" stroke="#000" stroke-width="0.9"/><text x="25" y="195.8" font-size="13.5">2Δ</text><text x="40.0" y="189.5" font-size="8">2</text></g></g></svg></body></html>
